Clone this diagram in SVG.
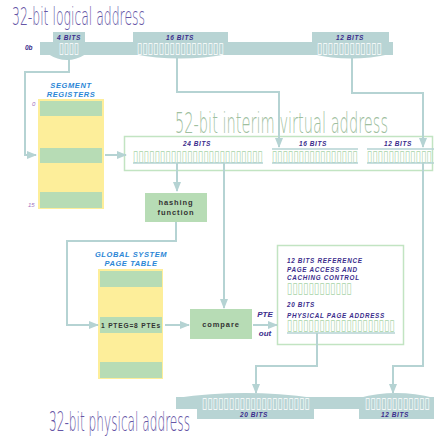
<svg xmlns="http://www.w3.org/2000/svg" width="434" height="438" viewBox="0 0 434 438">
<defs>
<marker id="ah" markerWidth="10" markerHeight="8" refX="9" refY="4" orient="auto" markerUnits="userSpaceOnUse">
<path d="M0,0 L10,4 L0,8 Z" fill="#b5d3d3"/>
</marker>
<style>
.title{font-family:"DejaVu Sans","Liberation Sans",sans-serif;font-weight:200;fill:#6656a6}
.vtitle{font-family:"DejaVu Sans","Liberation Sans",sans-serif;font-weight:200;fill:#9fbf9f}
.bits{font-family:"Liberation Sans",Arial,sans-serif;font-style:italic;font-weight:bold;font-size:6.5px;fill:#3b2d8c;letter-spacing:0.6px}
.box{font-family:"DejaVu Sans",sans-serif;font-size:15px}
.wbox{fill:#ffffff}
.gbox{fill:#a8d4a8}
.blue{font-family:"Liberation Sans",Arial,sans-serif;font-style:italic;font-weight:bold;font-size:7.5px;fill:#2b86d6;letter-spacing:0.6px}
.lbl{font-family:"Liberation Sans",Arial,sans-serif;font-weight:bold;font-size:7.5px;fill:#333;letter-spacing:0.9px}
.pur{font-family:"Liberation Sans",Arial,sans-serif;font-style:italic;font-weight:bold;fill:#3b2d8c}
.idx{font-family:"Liberation Sans",Arial,sans-serif;font-style:italic;font-size:6px;fill:#a070c0}
.band{fill:#b8d4d4}
.conn{fill:none;stroke:#b5d3d3;stroke-width:2}
.yel{fill:#fdee9a}
.grn{fill:#b7dcb5}
.outline{fill:none;stroke:#c2e4c2;stroke-width:1.5}
.uline{stroke:#b5d3d3;stroke-width:1.5}
</style>
</defs>

<g id="logical-address">
<text class="title" x="12" y="25" font-size="24" textLength="133" lengthAdjust="spacingAndGlyphs">32-bit logical address</text>
<text class="pur" x="25" y="50" font-size="6.5">0b</text>
<rect class="band" x="40" y="42" width="353" height="13"/>
<rect class="band" x="53" y="32" width="32" height="11"/>
<rect class="band" x="133" y="32" width="95" height="11"/>
<rect class="band" x="312" y="32" width="77" height="11"/>
<path class="band" d="M48,54 Q67,66 86,54 Z"/>
<path class="band" d="M133,54 Q180,63 228,54 Z"/>
<path class="band" d="M312,54 Q351,63 390,54 Z"/>
<text class="bits" x="69" y="40" text-anchor="middle">4 BITS</text>
<text class="bits" x="180" y="40" text-anchor="middle">16 BITS</text>
<text class="bits" x="350" y="40" text-anchor="middle">12 BITS</text>
<text class="box wbox" x="59" y="53" textLength="20" lengthAdjust="spacingAndGlyphs">▯▯▯▯</text>
<text class="box wbox" x="137" y="53" textLength="87" lengthAdjust="spacingAndGlyphs">▯▯▯▯▯▯▯▯▯▯▯▯▯▯▯▯</text>
<text class="box wbox" x="317" y="53" textLength="65" lengthAdjust="spacingAndGlyphs">▯▯▯▯▯▯▯▯▯▯▯▯</text>
</g>

<g id="segment-registers">
<text class="blue" x="71" y="88" text-anchor="middle">SEGMENT</text>
<text class="blue" x="71" y="97" text-anchor="middle">REGISTERS</text>
<rect class="yel" x="38" y="99" width="66" height="110"/>
<rect class="grn" x="40" y="101" width="62" height="15"/>
<rect class="grn" x="40" y="148" width="62" height="15"/>
<rect class="grn" x="40" y="192" width="62" height="16"/>
<text class="idx" x="32" y="106">0</text>
<text class="idx" x="28" y="207">15</text>
</g>

<g id="virtual-address">
<text class="vtitle" x="175" y="133" font-size="28" textLength="213" lengthAdjust="spacingAndGlyphs">52-bit interim virtual address</text>
<rect class="outline" x="124.5" y="136.5" width="308" height="34"/>
<text class="bits" x="197" y="146" text-anchor="middle">24 BITS</text>
<text class="bits" x="313" y="146" text-anchor="middle">16 BITS</text>
<text class="bits" x="398" y="146" text-anchor="middle">12 BITS</text>
<line class="uline" x1="272" y1="149" x2="358" y2="149"/>
<line class="uline" x1="367" y1="149" x2="434" y2="149"/>
<text class="box gbox" x="133" y="161" textLength="130" lengthAdjust="spacingAndGlyphs">▯▯▯▯▯▯▯▯▯▯▯▯▯▯▯▯▯▯▯▯▯▯▯▯</text>
<text class="box gbox" x="272" y="161" textLength="86" lengthAdjust="spacingAndGlyphs">▯▯▯▯▯▯▯▯▯▯▯▯▯▯▯▯</text>
<text class="box gbox" x="367" y="161" textLength="65" lengthAdjust="spacingAndGlyphs">▯▯▯▯▯▯▯▯▯▯▯▯</text>
<line class="uline" x1="133" y1="163" x2="263" y2="163"/>
<line class="uline" x1="272" y1="163" x2="358" y2="163"/>
<line class="uline" x1="367" y1="163" x2="434" y2="163"/>
</g>

<g id="hashing-function">
<rect class="grn" x="145" y="193" width="62" height="29"/>
<text class="lbl" x="176" y="205" text-anchor="middle">hashing</text>
<text class="lbl" x="176" y="215" text-anchor="middle">function</text>
</g>

<g id="page-table">
<text class="blue" x="131" y="257" text-anchor="middle">GLOBAL SYSTEM</text>
<text class="blue" x="131" y="266" text-anchor="middle">PAGE TABLE</text>
<rect class="yel" x="98" y="269" width="65" height="110"/>
<rect class="grn" x="100" y="271" width="62" height="16"/>
<rect class="grn" x="100" y="317" width="62" height="16"/>
<rect class="grn" x="100" y="362" width="62" height="16"/>
<text class="lbl" x="131" y="328" text-anchor="middle" letter-spacing="0.3" textLength="60" lengthAdjust="spacingAndGlyphs">1 PTEG=8 PTEs</text>
</g>

<g id="compare">
<rect class="grn" x="190" y="309" width="62" height="30"/>
<text class="lbl" x="221" y="327" text-anchor="middle">compare</text>
</g>

<g id="pte">
<rect class="outline" x="277.5" y="245.5" width="126" height="99"/>
<text class="pur" x="287" y="263" font-size="6.3" letter-spacing="0.7">12 BITS REFERENCE</text>
<text class="pur" x="287" y="272" font-size="6.3" letter-spacing="0.7">PAGE ACCESS AND</text>
<text class="pur" x="287" y="280" font-size="6.3" letter-spacing="0.7">CACHING CONTROL</text>
<text class="box gbox" x="287" y="293" textLength="65" lengthAdjust="spacingAndGlyphs">▯▯▯▯▯▯▯▯▯▯▯▯</text>
<text class="pur" x="287" y="307" font-size="6.3" letter-spacing="0.7">20 BITS</text>
<text class="pur" x="287" y="318" font-size="6.3" letter-spacing="0.7">PHYSICAL PAGE ADDRESS</text>
<text class="box gbox" x="287" y="330" textLength="108" lengthAdjust="spacingAndGlyphs">▯▯▯▯▯▯▯▯▯▯▯▯▯▯▯▯▯▯▯▯</text>
<line class="uline" x1="287" y1="333" x2="395" y2="333"/>
<text class="pur" x="265" y="317" font-size="8" text-anchor="middle">PTE</text>
<text class="pur" x="265" y="336" font-size="8" text-anchor="middle">out</text>
</g>

<g id="physical-address">
<rect class="band" x="176" y="397" width="258" height="12"/>
<path class="band" d="M176,398 Q245,388 314,398 Z"/>
<path class="band" d="M359,398 Q396,388 434,398 Z"/>
<rect class="band" x="197" y="408" width="117" height="11"/>
<rect class="band" x="359" y="408" width="75" height="11"/>
<text class="box wbox" x="202" y="408" textLength="108" lengthAdjust="spacingAndGlyphs">▯▯▯▯▯▯▯▯▯▯▯▯▯▯▯▯▯▯▯▯</text>
<text class="box wbox" x="365" y="408" textLength="65" lengthAdjust="spacingAndGlyphs">▯▯▯▯▯▯▯▯▯▯▯▯</text>
<text class="bits" x="254" y="417" text-anchor="middle">20 BITS</text>
<text class="bits" x="395" y="417" text-anchor="middle">12 BITS</text>
<text class="title" x="49" y="431" font-size="27" textLength="141" lengthAdjust="spacingAndGlyphs">32-bit physical address</text>
</g>

<g id="connectors">
<path class="conn" d="M69,59 V72 H25 V155 H36" marker-end="url(#ah)"/>
<path class="conn" d="M105,155 H126" marker-end="url(#ah)"/>
<path class="conn" d="M177,58 V92 H279 V147" marker-end="url(#ah)"/>
<path class="conn" d="M352,58 V93 H423 V147" marker-end="url(#ah)"/>
<path class="conn" d="M177,163 V191" marker-end="url(#ah)"/>
<path class="conn" d="M224,163 V308" marker-end="url(#ah)"/>
<path class="conn" d="M176,222 V241 H67 V325 H98" marker-end="url(#ah)"/>
<path class="conn" d="M165,325 H189" marker-end="url(#ah)"/>
<path class="conn" d="M253,325 H277" marker-end="url(#ah)"/>
<path class="conn" d="M317,333 V366 H256 V393" marker-end="url(#ah)"/>
<path class="conn" d="M423,163 V366 H393 V393" marker-end="url(#ah)"/>
</g>
</svg>
